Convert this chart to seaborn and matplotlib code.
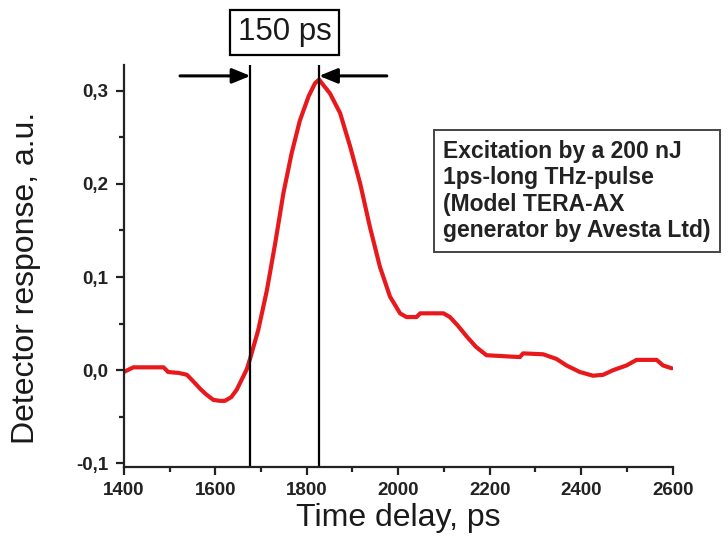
import numpy as np
import pandas as pd
import matplotlib
matplotlib.use("Agg")
import matplotlib.pyplot as plt
import matplotlib.transforms as mtransforms
from matplotlib.ticker import MultipleLocator, FuncFormatter
import seaborn as sns

time_ps = [1400, 1421, 1440, 1460, 1487, 1497, 1520, 1538, 1550, 1567, 1580,
           1596, 1610, 1621, 1635, 1647, 1658, 1669, 1676, 1694, 1713, 1731,
           1749, 1767, 1785, 1804, 1818, 1827, 1851, 1873, 1895, 1917, 1938,
           1960, 1982, 2004, 2018, 2040, 2048, 2099, 2113, 2130, 2150, 2170,
           2193, 2266, 2273, 2317, 2346, 2368, 2397, 2426, 2448, 2470, 2499,
           2521, 2565, 2579, 2598]
response = [-0.002, 0.003, 0.003, 0.003, 0.003, -0.002, -0.003, -0.005, -0.011,
            -0.020, -0.026, -0.032, -0.033, -0.033, -0.029, -0.021, -0.010,
            0.001, 0.012, 0.043, 0.086, 0.136, 0.190, 0.233, 0.268, 0.294,
            0.308, 0.312, 0.297, 0.276, 0.240, 0.200, 0.154, 0.111, 0.079,
            0.061, 0.057, 0.057, 0.061, 0.061, 0.057, 0.048, 0.036, 0.025,
            0.016, 0.014, 0.018, 0.017, 0.012, 0.005, -0.002, -0.006, -0.005,
            0.000, 0.005, 0.011, 0.011, 0.005, 0.002]

marker_left = 1677
marker_right = 1827
width_label = "150 ps"
note = "Excitation by a 200 nJ\n1ps-long THz-pulse\n(Model TERA-AX\ngenerator by Avesta Ltd)"

df = pd.DataFrame({"t": time_ps, "r": response})

sns.set_style("ticks")
plt.rcParams["font.family"] = ["Liberation Sans", "DejaVu Sans"]

fig = plt.figure(figsize=(7.28, 5.47), dpi=100)
ax = fig.add_axes([0.170, 0.147, 0.754, 0.734])

sns.lineplot(data=df, x="t", y="r", color="#e8191c", linewidth=3.0, ax=ax)

ax.set_xlim(1400, 2600)
ax.set_ylim(-0.1036, 0.3276)

# vertical markers
for xm in (marker_left, marker_right):
    ax.axvline(xm, color="black", linewidth=1.6)

# arrows pointing at the markers
arrow_y = 0.316
ax.annotate("", xy=(marker_left, arrow_y), xytext=(1523, arrow_y),
            arrowprops=dict(arrowstyle="-|>,head_length=1.1,head_width=0.45",
                            color="black", lw=2.2, shrinkA=0, shrinkB=0))
ax.annotate("", xy=(marker_right, arrow_y), xytext=(1975, arrow_y),
            arrowprops=dict(arrowstyle="-|>,head_length=1.1,head_width=0.45",
                            color="black", lw=2.2, shrinkA=0, shrinkB=0))

trans = mtransforms.blended_transform_factory(ax.transData, ax.transAxes)
ax.text((marker_left + marker_right) / 2, 1.082, width_label, transform=trans,
        ha="center", va="center", fontsize=22.5, color="#1a1a1a",
        bbox=dict(boxstyle="square,pad=0.24", facecolor="white",
                  edgecolor="black", linewidth=1.6), clip_on=False)

fig.text(443 / 728, 1 - 191 / 547, note, ha="left", va="center",
         fontsize=16.5, fontweight="bold", color="#222222", linespacing=1.2,
         bbox=dict(boxstyle="square,pad=0.4", facecolor="white",
                   edgecolor="#444444", linewidth=1.4))

# axes styling
sns.despine(ax=ax)
for s in ("left", "bottom"):
    ax.spines[s].set_linewidth(1.6)
    ax.spines[s].set_color("#222222")

ax.xaxis.set_major_locator(MultipleLocator(200))
ax.xaxis.set_minor_locator(MultipleLocator(100))
ax.yaxis.set_major_locator(MultipleLocator(0.1))
ax.yaxis.set_minor_locator(MultipleLocator(0.05))
ax.yaxis.set_major_formatter(FuncFormatter(lambda v, p: f"{v:.1f}".replace(".", ",")))
ax.tick_params(which="major", length=6, width=1.6, color="#222222",
               labelsize=13.5, labelcolor="#222222", pad=5)
ax.tick_params(which="minor", length=3.5, width=1.6, color="#222222")
for lab in ax.get_xticklabels() + ax.get_yticklabels():
    lab.set_fontweight("bold")

ax.set_xlabel("Time delay, ps", fontsize=23, color="#1a1a1a", labelpad=3)
ax.set_ylabel("Detector response, a.u.", fontsize=23, color="#1a1a1a")
ax.yaxis.set_label_coords(-0.15, 0.47)

fig.savefig("out.png", dpi=100, facecolor="white")
